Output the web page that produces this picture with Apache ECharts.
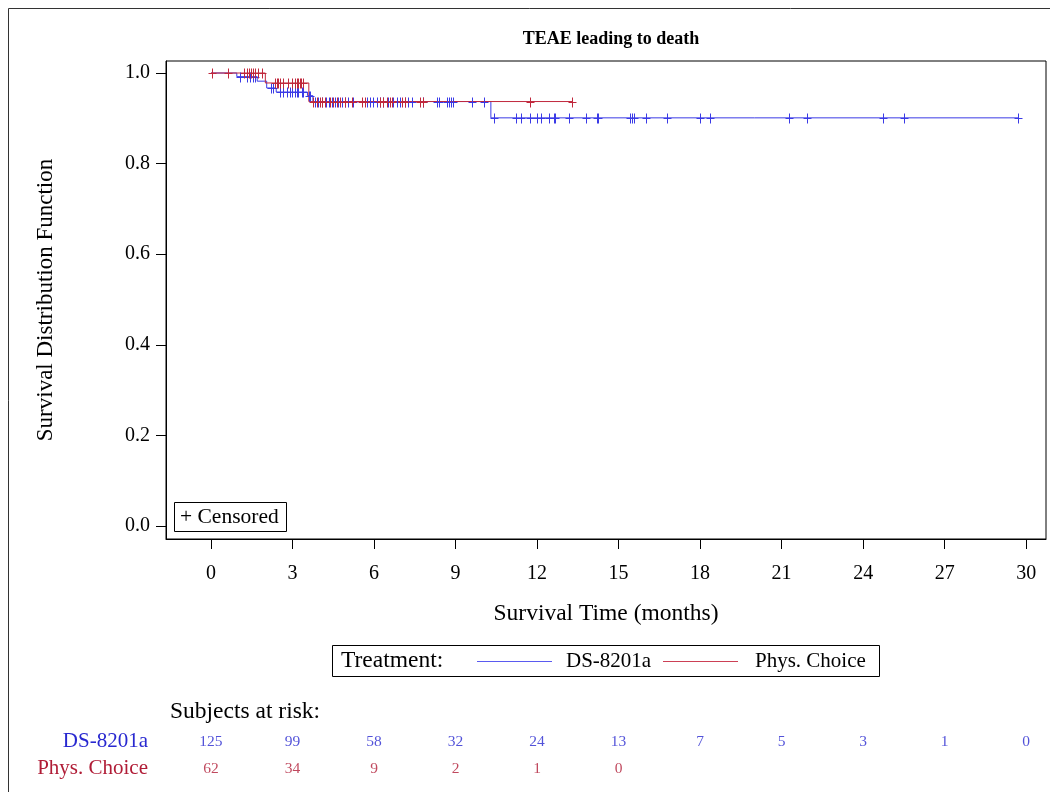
<!DOCTYPE html>
<html><head><meta charset="utf-8">
<script src="https://cdn.jsdelivr.net/npm/echarts@6/dist/echarts.min.js"></script>
<style>html,body{margin:0;padding:0;background:#fff}#c{width:1050px;height:792px}</style>
</head><body><div id="c"></div>
<script>
// ---- data ----
const xTicks = [0, 3, 6, 9, 12, 15, 18, 21, 24, 27, 30];
const yTicks = [0, 0.2, 0.4, 0.6, 0.8, 1.0];
const groups = ['DS-8201a', 'Phys. Choice'];
// Kaplan-Meier step points [time, survival]
const dsSteps = [[0,1],[0.95,0.992],[1.7,0.982],[2.05,0.967],[2.4,0.958],[3.55,0.95],[3.75,0.937],[10.3,0.901],[29.71,0.901]];
const pcSteps = [[0,1],[2.0,0.978],[3.6,0.937],[13.3,0.937]];
// censoring times
const dsCensor = [1.07,1.31,1.44,1.56,1.62,2.2,2.3,2.54,2.66,2.78,2.9,2.97,3.09,3.15,3.22,3.34,3.4,3.6,3.65,
  3.83,3.94,4.09,4.23,4.34,4.44,4.56,4.69,4.81,4.93,5.05,5.24,5.73,5.85,5.97,6.10,6.22,6.34,6.53,6.71,6.83,6.96,
  7.14,7.26,7.39,7.81,8.31,8.40,8.70,8.77,8.82,8.89,9.60,10.06,
  10.42,11.21,11.40,11.74,12.0,12.13,12.44,12.62,12.66,13.19,13.80,14.2,14.25,15.42,15.51,15.58,16.0,16.79,18.0,18.37,
  21.26,21.95,24.74,25.52,29.71];
const pcCensor = [0.02,0.63,1.23,1.32,1.40,1.47,1.56,1.62,1.74,1.86,
  2.36,2.42,2.48,2.54,2.66,2.85,2.97,3.09,3.15,3.21,3.27,3.33,3.40,
  3.75,3.9,4.0,4.1,4.2,4.38,4.48,4.63,4.75,4.93,5.18,5.55,5.67,6.22,6.34,6.47,6.59,6.65,7.02,7.14,7.69,7.79,11.75,13.3];
const riskDS = [125, 99, 58, 32, 24, 13, 7, 5, 3, 1, 0];
const riskPC = [62, 34, 9, 2, 1, 0];

// ---- build ----
const BLUE = '#3a3ae6', RED = '#c0283c';
const BLUE_T = '#2828d0', RED_T = '#b01c36';
const FONT = '"Liberation Serif","Times New Roman",serif';
function survAt(steps, t) { let s = steps[0][1]; for (const p of steps) { if (p[0] <= t) s = p[1]; } return s; }
const dsCens = dsCensor.map(t => [t, survAt(dsSteps, t)]);
const pcCens = pcCensor.map(t => [t, survAt(pcSteps, t)]);
function plusRender(color) {
  return function (params, api) {
    const p = api.coord([api.value(0), api.value(1)]);
    const x = Math.round(p[0]) + 0.5, y = Math.round(p[1]) + 0.5;
    return { type: 'group', children: [
      { type: 'line', shape: { x1: x, y1: y - 5, x2: x, y2: y + 5 }, style: { stroke: color, lineWidth: 1 } },
      { type: 'line', shape: { x1: x - 4, y1: y, x2: x + 4, y2: y }, style: { stroke: color, lineWidth: 1 } }
    ] };
  };
}
const riskData = [];
riskDS.forEach((v, i) => riskData.push({ value: [xTicks[i], groups[0], v], label: { color: BLUE_T } }));
riskPC.forEach((v, i) => riskData.push({ value: [xTicks[i], groups[1], v], label: { color: RED_T } }));

const XMIN = -1.656, XMAX = 30.73;
const chart = echarts.init(document.getElementById('c'), null, { renderer: 'canvas' });
chart.setOption({
  animation: false,
  backgroundColor: '#fff',
  textStyle: { fontFamily: FONT },
  title: [
    { text: 'TEAE leading to death', left: 606, top: 25, textAlign: 'center',
      textStyle: { fontFamily: FONT, fontSize: 18, fontWeight: 'bold', color: '#000' } },
    { text: 'Subjects at risk:', left: 165, top: 695,
      textStyle: { fontFamily: FONT, fontSize: 23.5, fontWeight: 'normal', color: '#000' } }
  ],
  grid: [
    { left: 166, right: 4, top: 61, bottom: 253, show: true, borderColor: '#000', borderWidth: 1, backgroundColor: 'transparent' },
    { left: 166, right: 4, top: 728, height: 54, show: false }
  ],
  xAxis: [
    { type: 'value', gridIndex: 0, min: XMIN, max: XMAX,
      name: 'Survival Time (months)', nameLocation: 'middle', nameGap: 63,
      nameTextStyle: { fontFamily: FONT, fontSize: 23.5, color: '#000' },
      axisLine: { show: true, onZero: false, lineStyle: { color: '#000', width: 1 } },
      axisTick: { show: true, length: 10, customValues: xTicks, lineStyle: { color: '#000' } },
      axisLabel: { customValues: xTicks, margin: 25, fontFamily: FONT, fontSize: 20, color: '#000' },
      splitLine: { show: false } },
    { type: 'value', gridIndex: 1, min: XMIN, max: XMAX, show: false }
  ],
  yAxis: [
    { type: 'value', gridIndex: 0, min: -0.0287, max: 1.0265,
      name: 'Survival Distribution Function', nameLocation: 'middle', nameGap: 109, nameRotate: 90,
      nameTextStyle: { fontFamily: FONT, fontSize: 23, color: '#000' },
      axisLine: { show: true, onZero: false, lineStyle: { color: '#000', width: 1 } },
      axisTick: { show: true, length: 10, customValues: yTicks, lineStyle: { color: '#000' } },
      axisLabel: { customValues: yTicks, margin: 16, fontFamily: FONT, fontSize: 20, color: '#000',
        formatter: v => v.toFixed(1) },
      splitLine: { show: false } },
    { type: 'category', gridIndex: 1, data: groups, inverse: true,
      axisLine: { show: false }, axisTick: { show: false }, splitLine: { show: false },
      axisLabel: { interval: 0, margin: 18, fontFamily: FONT, fontSize: 21,
        formatter: v => v === groups[0] ? '{b|' + v + '}' : '{r|' + v + '}',
        rich: { b: { color: BLUE_T, fontFamily: FONT, fontSize: 21 }, r: { color: RED_T, fontFamily: FONT, fontSize: 21 } } } }
  ],
  series: [
    { name: groups[0], type: 'line', step: 'end', data: dsSteps, xAxisIndex: 0, yAxisIndex: 0,
      showSymbol: false, lineStyle: { color: BLUE, width: 1 }, z: 2 },
    { name: groups[1], type: 'line', step: 'end', data: pcSteps, xAxisIndex: 0, yAxisIndex: 0,
      showSymbol: false, lineStyle: { color: RED, width: 1 }, z: 3 },
    { type: 'custom', data: dsCens, renderItem: plusRender(BLUE), xAxisIndex: 0, yAxisIndex: 0, z: 4 },
    { type: 'custom', data: pcCens, renderItem: plusRender(RED), xAxisIndex: 0, yAxisIndex: 0, z: 5 },
    { type: 'scatter', xAxisIndex: 1, yAxisIndex: 1, data: riskData, symbolSize: 1,
      itemStyle: { color: 'rgba(0,0,0,0)' },
      label: { show: true, position: 'inside', formatter: p => String(p.value[2]), fontFamily: FONT, fontSize: 15.5 } }
  ],
  graphic: [
    { type: 'rect', shape: { x: 8.5, y: 8.5, width: 1100, height: 900 }, style: { fill: 'none', stroke: '#333', lineWidth: 1 }, silent: true },
    // inset censored legend
    { type: 'rect', shape: { x: 174.5, y: 502.5, width: 112, height: 29 }, style: { fill: '#fff', stroke: '#000', lineWidth: 1 }, z: 10 },
    { type: 'text', x: 180, y: 517, style: { text: '+ Censored', fontFamily: FONT, fontSize: 21.5, fill: '#000', verticalAlign: 'middle' }, z: 11 },
    // treatment legend
    { type: 'rect', shape: { x: 332.5, y: 645.5, width: 547, height: 31 }, style: { fill: '#fff', stroke: '#000', lineWidth: 1 }, z: 10 },
    { type: 'text', x: 341, y: 661, style: { text: 'Treatment:', fontFamily: FONT, fontSize: 23.5, fill: '#000', verticalAlign: 'middle' }, z: 11 },
    { type: 'line', shape: { x1: 477, y1: 661.5, x2: 552, y2: 661.5 }, style: { stroke: '#5a5af0', lineWidth: 1 }, z: 11 },
    { type: 'text', x: 566, y: 661, style: { text: groups[0], fontFamily: FONT, fontSize: 21, fill: '#000', verticalAlign: 'middle' }, z: 11 },
    { type: 'line', shape: { x1: 663, y1: 661.5, x2: 738, y2: 661.5 }, style: { stroke: '#cc4055', lineWidth: 1 }, z: 11 },
    { type: 'text', x: 755, y: 661, style: { text: groups[1], fontFamily: FONT, fontSize: 21, fill: '#000', verticalAlign: 'middle' }, z: 11 }
  ]
});
</script></body></html>
